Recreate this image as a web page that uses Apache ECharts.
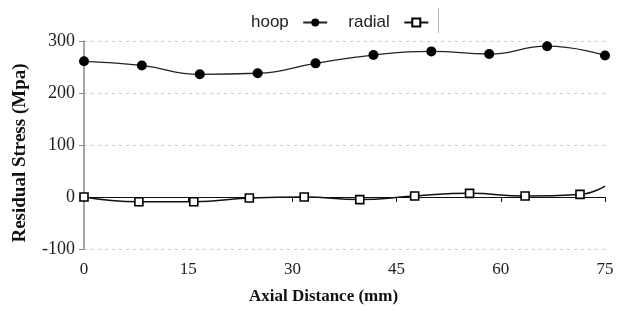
<!DOCTYPE html>
<html>
<head>
<meta charset="utf-8">
<script src="https://cdn.jsdelivr.net/npm/echarts@6/dist/echarts.min.js"></script>
<style>
  html, body { margin: 0; padding: 0; background: #fff; }
  #chart { width: 626px; height: 311px; }
</style>
</head>
<body>
<div id="chart"></div>
<script>
// data
const hoopX = [0, 8.33, 16.67, 25, 33.33, 41.67, 50, 58.33, 66.67, 75]
const hoopY = [261, 253, 236, 238, 257, 273, 280, 275, 290, 272]
const radialX = [0, 7.9, 15.8, 23.8, 31.7, 39.7, 47.6, 55.5, 63.5, 71.4, 75]
const radialY = [0, -9, -9, -2, 0, -5, 2, 7, 2, 5, 21]
const xTicks = [0, 15, 30, 45, 60, 75]
const yTicks = [-100, 0, 100, 200, 300]

const serif = '"Liberation Serif", "Times New Roman", serif'
const sans = '"Liberation Sans", Arial, sans-serif'

const chart = echarts.init(document.getElementById('chart'), null, { renderer: 'canvas' })

const radialData = radialX.map((x, i) => {
  // last point only carries the line to the axis end, no marker
  if (i === radialX.length - 1) {
    return { value: [x, radialY[i]], symbol: 'none' }
  }
  return [x, radialY[i]]
})

chart.setOption({
  animation: false,
  grid: {
    left: 84,
    right: 21,
    top: 41,
    bottom: 62,
    containLabel: false
  },
  legend: {
    left: 246,
    top: 9,
    align: 'right',
    itemGap: 20,
    itemWidth: 24,
    itemHeight: 10,
    textStyle: { fontFamily: sans, fontSize: 17, color: '#222' },
    formatter: name => name + '  ',
    data: ['hoop', 'radial']
  },
  graphic: [{
    type: 'line',
    shape: { x1: 438.5, y1: 8, x2: 438.5, y2: 33 },
    style: { stroke: '#bbb', lineWidth: 1 }
  }],
  xAxis: {
    type: 'value',
    min: xTicks[0],
    max: xTicks[xTicks.length - 1],
    interval: 15,
    name: 'Axial Distance (mm)',
    nameLocation: 'middle',
    nameGap: 39,
    nameTextStyle: {
      fontFamily: serif, fontSize: 17, fontWeight: 'bold', color: '#111',
      padding: [0, 42, 0, 0]
    },
    axisLine: { lineStyle: { color: '#111', width: 1 } },
    axisTick: { show: true, length: 5, lineStyle: { color: '#111' } },
    axisLabel: { fontFamily: serif, fontSize: 17, color: '#222', margin: 12 },
    splitLine: { show: false }
  },
  yAxis: {
    type: 'value',
    min: yTicks[0],
    max: yTicks[yTicks.length - 1],
    interval: 100,
    name: 'Residual Stress (Mpa)',
    nameLocation: 'middle',
    nameGap: 54,
    nameTextStyle: {
      fontFamily: serif, fontSize: 19, fontWeight: 'bold', color: '#111',
      padding: [0, 16, 0, 0]
    },
    axisLine: { show: true, lineStyle: { color: '#888', width: 1.5 } },
    axisTick: { show: true, length: 5, lineStyle: { color: '#888' } },
    axisLabel: { fontFamily: serif, fontSize: 18, color: '#222', margin: 9 },
    splitLine: {
      show: true,
      lineStyle: { color: '#ccc', type: [3, 4], width: 1 }
    }
  },
  series: [{
    name: 'hoop',
    type: 'line',
    smooth: 0.5,
    data: hoopX.map((x, i) => [x, hoopY[i]]),
    symbol: 'circle',
    symbolSize: 10,
    itemStyle: { color: '#000' },
    lineStyle: { color: '#222', width: 1.3 },
    z: 3
  }, {
    name: 'radial',
    type: 'line',
    smooth: 0.5,
    data: radialData,
    symbol: 'rect',
    symbolSize: 8,
    itemStyle: { color: '#fff', borderColor: '#000', borderWidth: 1.6 },
    lineStyle: { color: '#111', width: 1.5 },
    z: 3
  }]
})
</script>
</body>
</html>
